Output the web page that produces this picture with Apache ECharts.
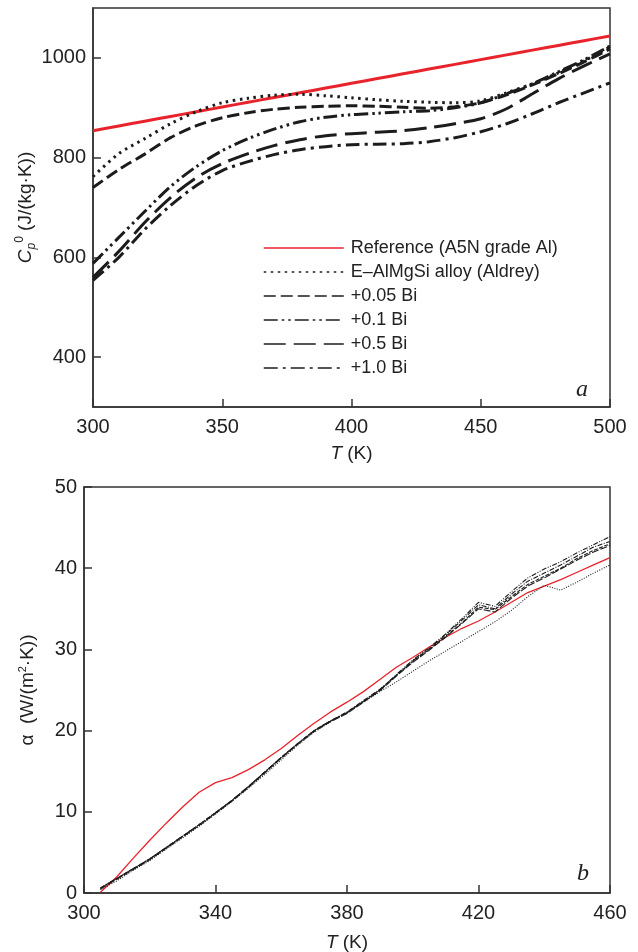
<!DOCTYPE html>
<html lang="en">
<head>
    <meta charset="UTF-8">
    <title>Heat capacity and heat transfer coefficient</title>
    <script src="https://cdn.jsdelivr.net/npm/echarts@6/dist/echarts.min.js"></script>
</head>
<body style="margin: 0; background: #fff">
<div id="container" style="width: 638px; height: 952px"></div>
<script>
    // panel a: heat capacity vs temperature
    var capT = [300, 310, 320, 330, 340, 350, 360, 370, 380, 390, 400, 410, 420, 430, 440, 450, 460, 470, 480, 490, 500];
    var capRef = [854, 863.5, 873, 882.5, 892, 901.5, 911, 920.5, 930, 939.5, 949, 958.5, 968, 977.5, 987, 996.5, 1006, 1015.5, 1025, 1034.5, 1044];
    var capAlloy = [762, 808, 838, 868, 892, 910, 919, 925, 927, 924, 920, 916, 913, 911, 910, 914, 930, 948, 970, 994, 1022];
    var capBi005 = [740, 776, 807, 840, 864, 880, 890, 897, 901, 903, 904, 903, 901, 899, 902, 910, 926, 946, 968, 992, 1018];
    var capBi01 = [588, 640, 692, 742, 782, 814, 838, 857, 872, 881, 886, 889, 892, 894, 900, 910, 928, 948, 972, 996, 1024];
    var capBi05 = [560, 612, 670, 720, 760, 788, 808, 824, 836, 844, 848, 851, 854, 860, 868, 878, 898, 928, 958, 984, 1008];
    var capBi10 = [554, 600, 656, 704, 744, 774, 792, 806, 816, 822, 826, 827, 828, 832, 840, 852, 868, 888, 910, 930, 950];
    var capTicks = [400, 600, 800, 1000];

    // panel b: heat transfer coefficient vs temperature
    var alphaT = [305, 310, 315, 320, 325, 330, 335, 340, 345, 350, 355, 360, 365, 370, 375, 380, 385, 390, 395, 400, 405, 410, 415, 420, 425, 430, 435, 440, 445, 450, 455, 460];
    var alphaRef = [0.1, 2.0, 4.3, 6.5, 8.6, 10.6, 12.4, 13.6, 14.2, 15.2, 16.4, 17.8, 19.4, 20.9, 22.3, 23.5, 24.8, 26.3, 27.8, 29.0, 30.3, 31.5, 32.6, 33.5, 34.6, 35.8, 37.0, 37.8, 38.6, 39.5, 40.4, 41.3];
    var alphaAlloy = [0.4, 1.5, 2.8, 4.0, 5.4, 6.8, 8.2, 9.7, 11.3, 12.9, 14.6, 16.4, 18.2, 19.8, 21.1, 22.2, 23.5, 24.8, 26.0, 27.3, 28.6, 29.8, 31.0, 32.2, 33.4, 34.8, 36.5, 37.9, 37.3, 38.3, 39.4, 40.4];
    var alphaBi005 = [0.6, 1.8, 3.0, 4.2, 5.6, 7.0, 8.4, 9.9, 11.4, 13.1, 14.9, 16.7, 18.4, 20.0, 21.2, 22.2, 23.6, 25.0, 26.8, 28.5, 30.0, 31.6, 33.3, 35.2, 34.9, 36.5, 38.0, 39.0, 40.0, 41.2, 42.2, 43.0];
    var alphaBi01 = [0.6, 1.8, 3.0, 4.2, 5.6, 7.0, 8.4, 9.9, 11.4, 13.1, 14.9, 16.7, 18.4, 20.0, 21.2, 22.2, 23.6, 25.0, 26.9, 28.7, 30.2, 31.9, 33.8, 35.8, 35.3, 37.1, 38.8, 39.9, 40.8, 41.9, 42.9, 43.9];
    var alphaBi05 = [0.5, 1.7, 2.9, 4.1, 5.5, 6.9, 8.3, 9.8, 11.3, 13.0, 14.8, 16.6, 18.3, 19.9, 21.1, 22.1, 23.5, 24.9, 26.7, 28.4, 29.9, 31.5, 33.2, 35.0, 34.6, 36.3, 37.8, 38.8, 39.9, 41.0, 42.0, 42.8];
    var alphaBi10 = [0.6, 1.8, 3.0, 4.2, 5.6, 7.0, 8.4, 9.9, 11.4, 13.1, 14.9, 16.7, 18.4, 20.0, 21.2, 22.3, 23.7, 25.1, 26.8, 28.6, 30.1, 31.8, 33.6, 35.5, 35.0, 36.8, 38.4, 39.4, 40.4, 41.5, 42.6, 43.3];

    var seriesNames = ['Reference (A5N grade Al)', 'E\u2013AlMgSi alloy (Aldrey)', '+0.05 Bi', '+0.1 Bi', '+0.5 Bi', '+1.0 Bi'];

    var RED = '#e8232b';
    var BLACK = '#1c1c1c';
    var FONT = 'Liberation Sans';

    function pairs(xs, ys) {
        return xs.map(function (x, i) { return [x, ys[i]]; });
    }

    // dash patterns for the two panels (thick lines on top, thin on the bottom)
    var topDash = ['solid', [2.5, 4.5], [12, 5], [14, 4, 2.5, 4, 2.5, 4], [22, 8], [14, 5, 3, 5]];
    var botDash = ['solid', [1, 1.5], [4, 1.5], [5, 1.5, 1, 1.5, 1, 1.5], [7, 2], [5, 1.5, 1, 1.5]];
    var capData = [capRef, capAlloy, capBi005, capBi01, capBi05, capBi10];
    var alphaData = [alphaRef, alphaAlloy, alphaBi005, alphaBi01, alphaBi05, alphaBi10];

    var series = [];
    seriesNames.forEach(function (name, i) {
        series.push({
            name: name,
            type: 'line',
            xAxisIndex: 0,
            yAxisIndex: 0,
            symbol: 'none',
            smooth: 0.3,
            z: i === 0 ? 1 : 2,
            data: pairs(capT, capData[i]),
            lineStyle: {color: i === 0 ? RED : BLACK, width: 3, type: topDash[i], cap: 'butt'}
        });
    });
    seriesNames.forEach(function (name, i) {
        series.push({
            name: name,
            type: 'line',
            xAxisIndex: 1,
            yAxisIndex: 1,
            symbol: 'none',
            data: pairs(alphaT, alphaData[i]),
            lineStyle: {color: i === 0 ? RED : BLACK, width: i === 0 ? 1.3 : 1.1, type: botDash[i]}
        });
    });

    var axisLineStyle = {color: '#333', width: 1.5};
    var labelStyle = {color: '#222', fontSize: 20, fontFamily: FONT};

    var option = {
        animation: false,
        backgroundColor: '#fff',
        grid: [
            {left: 93, right: 28, top: 8, height: 399, outerBoundsMode: 'none', show: true, borderColor: '#333', borderWidth: 1.5},
            {left: 84, right: 28, top: 487, height: 406, outerBoundsMode: 'none', show: true, borderColor: '#333', borderWidth: 1.5}
        ],
        legend: {
            data: seriesNames,
            orient: 'vertical',
            left: 258,
            top: 234,
            itemWidth: 80,
            itemHeight: 14,
            itemGap: 6,
            itemStyle: {opacity: 0},
            lineStyle: {width: 1.5},
            textStyle: {color: '#222', fontSize: 18, fontFamily: FONT, padding: [0, 0, 0, 2]},
            selectedMode: false
        },
        xAxis: [
            {
                gridIndex: 0, type: 'value', min: 300, max: 500, interval: 50,
                name: '{i|T} (K)', nameLocation: 'middle', nameGap: 37,
                nameTextStyle: {color: '#222', fontSize: 19, fontFamily: FONT, rich: {i: {fontStyle: 'italic', fontSize: 19, fontFamily: FONT}}},
                axisLine: {lineStyle: axisLineStyle},
                axisTick: {inside: true, length: 8, lineStyle: axisLineStyle},
                axisLabel: Object.assign({margin: 10}, labelStyle),
                splitLine: {show: false}
            },
            {
                gridIndex: 1, type: 'value', min: 300, max: 460, interval: 40,
                name: '{i|T} (K)', nameLocation: 'middle', nameGap: 40,
                nameTextStyle: {color: '#222', fontSize: 19, fontFamily: FONT, rich: {i: {fontStyle: 'italic', fontSize: 19, fontFamily: FONT}}},
                axisLine: {lineStyle: axisLineStyle},
                axisTick: {inside: true, length: 8, lineStyle: axisLineStyle},
                axisLabel: Object.assign({margin: 10}, labelStyle),
                splitLine: {show: false}
            }
        ],
        yAxis: [
            {
                gridIndex: 0, type: 'value', min: 300, max: 1100,
                name: '{c|C}{s|p}{u|0}{n| (J/(kg·K))}', nameLocation: 'middle', nameGap: 55,
                nameMoveOverlap: false,
                nameTextStyle: {
                    color: '#222', fontSize: 19, fontFamily: FONT,
                    rich: {
                        c: {fontSize: 19, fontStyle: 'italic', fontFamily: FONT, color: '#222'},
                        s: {fontSize: 12, fontStyle: 'italic', fontFamily: FONT, color: '#222', verticalAlign: 'bottom', lineHeight: 24},
                        u: {fontSize: 12, fontFamily: FONT, color: '#222', verticalAlign: 'top', lineHeight: 24},
                        n: {fontSize: 19, fontFamily: FONT, color: '#222'}
                    }
                },
                axisLine: {lineStyle: axisLineStyle},
                axisTick: {inside: true, length: 8, lineStyle: axisLineStyle, customValues: capTicks},
                axisLabel: Object.assign({
                    margin: 7,
                    customValues: capTicks,
                    formatter: function (v) { return String(v); }
                }, labelStyle),
                splitLine: {show: false}
            },
            {
                gridIndex: 1, type: 'value', min: 0, max: 50, interval: 10,
                name: '\u03b1  (W/(m{u|2}·K))', nameLocation: 'middle', nameGap: 45,
                nameMoveOverlap: false,
                nameTextStyle: {
                    color: '#222', fontSize: 19, fontFamily: FONT,
                    rich: {u: {fontSize: 11, fontFamily: FONT, color: '#222', verticalAlign: 'top', lineHeight: 22}}
                },
                axisLine: {lineStyle: axisLineStyle},
                axisTick: {inside: true, length: 8, lineStyle: axisLineStyle},
                axisLabel: Object.assign({margin: 7}, labelStyle),
                splitLine: {show: false}
            }
        ],
        graphic: [
            {type: 'text', left: 576, top: 378, style: {text: 'a', fontSize: 24, fontStyle: 'italic', fontFamily: 'Liberation Serif', fill: '#222'}},
            {type: 'text', left: 577, top: 862, style: {text: 'b', fontSize: 24, fontStyle: 'italic', fontFamily: 'Liberation Serif', fill: '#222'}}
        ],
        series: series
    };

    var myChart = echarts.init(document.getElementById('container'));
    myChart.setOption(option);
</script>
</body>
</html>
